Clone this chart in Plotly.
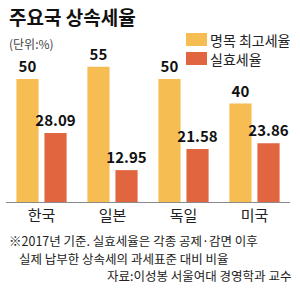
import plotly.graph_objects as go

categories = ["한국", "일본", "독일", "미국"]
nominal_top_rate = [50, 55, 50, 40]
effective_rate = [28.09, 12.95, 21.58, 23.86]
series_names = ["명목 최고세율", "실효세율"]

YELLOW = "#F6BD53"
RED = "#E1653F"
FONT = "Noto Sans CJK KR"

W, H = 300, 290
L, R, T, B = 6, 10, 20, 88
PW, PH = W - L - R, H - T - B
PX_PER_UNIT = 2.46
YMAX = PH / PX_PER_UNIT


def xp(px):
    return (px - L) / PW


def yp(py):
    return (H - B - py) / PH


def fmt(v):
    return f"{v:g}"


fig = go.Figure()
for name, vals, col in [(series_names[0], nominal_top_rate, YELLOW),
                        (series_names[1], effective_rate, RED)]:
    fig.add_trace(go.Bar(
        x=categories, y=vals, name=name, marker=dict(color=col, line=dict(width=0)),
        text=[fmt(v) for v in vals], textposition="outside", constraintext="none",
        textfont=dict(family=FONT, size=15, color="#111", weight="bold"),
        cliponaxis=False, showlegend=False,
    ))

fig.update_layout(
    width=W, height=H, margin=dict(l=L, r=R, t=T, b=B),
    paper_bgcolor="white", plot_bgcolor="white",
    barmode="group", bargap=0.21, bargroupgap=0.21,
    font=dict(family=FONT, color="#222"),
    xaxis=dict(showline=True, linecolor="#8a8a8a", linewidth=1, ticks="",
               tickfont=dict(family=FONT, size=15, color="#222"), showgrid=False),
    yaxis=dict(range=[0, YMAX], visible=False, showgrid=False),
)

anns = [
    dict(text="<b>주요국 상속세율</b>", x=xp(7), y=yp(16), size=19, xanchor="left", color="#111"),
    dict(text="(단위:%)", x=xp(7), y=yp(43), size=12, xanchor="left", color="#444"),
    dict(text=series_names[0], x=xp(208), y=yp(40), size=14, xanchor="left", color="#222"),
    dict(text=series_names[1], x=xp(208), y=yp(59), size=14, xanchor="left", color="#222"),
    dict(text="※2017년 기준. 실효세율은 각종 공제·감면 이후", x=xp(7), y=yp(240), size=12.5, xanchor="left", color="#222"),
    dict(text="실제 납부한 상속세의 과세표준 대비 비율", x=xp(17), y=yp(258), size=12.5, xanchor="left", color="#222"),
    dict(text="자료:이성봉 서울여대 경영학과 교수", x=xp(293), y=yp(275), size=12.5, xanchor="right", color="#222"),
]
for a in anns:
    fig.add_annotation(text=a["text"], x=a["x"], y=a["y"], xref="paper", yref="paper",
                       xanchor=a["xanchor"], yanchor="middle", showarrow=False,
                       font=dict(family=FONT, size=a["size"], color=a["color"]))

for col, y0, y1 in [(YELLOW, 33, 46), (RED, 52, 65)]:
    fig.add_shape(type="rect", xref="paper", yref="paper", x0=xp(186), x1=xp(207),
                  y0=yp(y1), y1=yp(y0), fillcolor=col, line=dict(width=0))

fig.write_html("out.html")
